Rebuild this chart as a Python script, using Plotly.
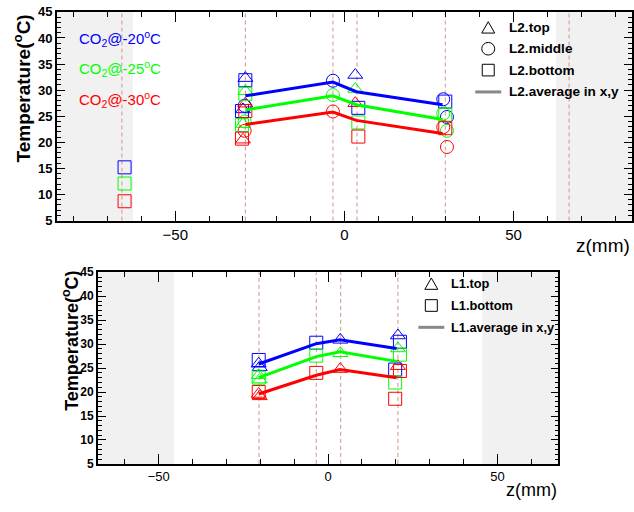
import plotly.graph_objects as go

W, H = 634, 512
COLORS = ["#0000ff", "#00ff00", "#ff0000"]
TEMPS = ["-20", "-25", "-30"]

# ---------------- L2 (upper panel) ----------------
l2_top_z = [-29.3, -30.0, 3.2]
l2_top_t20 = [32.3, 26.3, 32.9]
l2_top_t25 = [29.8, 23.5, 30.2]
l2_top_t30 = [27.4, 20.5, 27.5]

l2_mid_z = [-29.5, -3.4, 29.2, 30.3]
l2_mid_t20 = [27.0, 31.8, 28.25, 24.85]
l2_mid_t25 = [24.0, 29.05, 25.5, 22.2]
l2_mid_t30 = [22.2, 25.9, 22.9, 19.1]

l2_bot_z = [-65.0, -29.3, -30.3, 4.1, 29.8]
l2_bot_t20 = [15.2, 31.9, 26.0, 26.6, 27.8]
l2_bot_t25 = [12.1, 29.3, 23.3, 23.8, 25.3]
l2_bot_t30 = [8.7, 26.0, 20.7, 21.1, 22.7]

l2_avg_z = [-29.3, -3.4, 3.5, 29.0]
l2_avg_t20 = [28.9, 31.55, 29.7, 27.2]
l2_avg_t25 = [26.2, 28.9, 27.2, 24.35]
l2_avg_t30 = [23.4, 25.8, 24.2, 21.7]

l2_sensor_z = [-65.8, -29.3, -3.4, 3.7, 29.8, 66.4]
l2_shade = [62.5, 85]

# ---------------- L1 (lower panel) ----------------
l1_top_z = [-20.5, -20.2, 3.6, 20.6]
l1_top_t20 = [25.9, 25.2, 30.9, 31.8]
l1_top_t25 = [23.5, 22.6, 28.1, 29.1]
l1_top_t30 = [19.6, 19.1, 24.8, 25.4]

l1_bot_z = [-20.5, -3.5, 21.2, 19.8]
l1_bot_t20 = [26.7, 30.3, 30.5, 24.7]
l1_bot_t25 = [23.0, 27.6, 27.8, 22.0]
l1_bot_t30 = [20.0, 24.0, 24.4, 18.6]

l1_avg_z = [-20.5, -3.5, 3.5, 20.2]
l1_avg_t20 = [25.85, 30.1, 30.9, 29.1]
l1_avg_t25 = [23.0, 27.4, 28.4, 26.4]
l1_avg_t30 = [19.6, 23.5, 24.7, 23.0]

l1_sensor_z = [-20.4, -3.5, 3.7, 20.6]
l1_shade = [45.5, 68]

FONT = "Liberation Sans, Arial, sans-serif"


def px(x):
    return x / W


def py(y):
    return 1 - y / H


fig = go.Figure()

def add_markers(z, tlists, symbol, xa, ya):
    for t, c in zip(tlists, COLORS):
        fig.add_trace(go.Scatter(
            x=z, y=t, mode="markers", xaxis=xa, yaxis=ya, showlegend=False,
            marker=dict(symbol=symbol, size=13, color=c, line=dict(color=c, width=1))))


def add_lines(z, tlists, xa, ya):
    for t, c in zip(tlists, COLORS):
        fig.add_trace(go.Scatter(
            x=z, y=t, mode="lines", xaxis=xa, yaxis=ya, showlegend=False,
            line=dict(color=c, width=3)))

# upper panel
add_markers(l2_top_z, [l2_top_t20, l2_top_t25, l2_top_t30], "triangle-up-open", "x", "y")
add_markers(l2_mid_z, [l2_mid_t20, l2_mid_t25, l2_mid_t30], "circle-open", "x", "y")
add_markers(l2_bot_z, [l2_bot_t20, l2_bot_t25, l2_bot_t30], "square-open", "x", "y")
add_lines(l2_avg_z, [l2_avg_t20, l2_avg_t25, l2_avg_t30], "x", "y")

# lower panel
add_markers(l1_top_z, [l1_top_t20, l1_top_t25, l1_top_t30], "triangle-up-open", "x2", "y2")
add_markers(l1_bot_z, [l1_bot_t20, l1_bot_t25, l1_bot_t30], "square-open", "x2", "y2")
add_lines(l1_avg_z, [l1_avg_t20, l1_avg_t25, l1_avg_t30], "x2", "y2")

shapes = []
SHADE = "#f1f1f1"
DASHC = "rgb(205,150,140)"
for xr, yr, shade, sensors in [("x", "y domain", l2_shade, l2_sensor_z),
                                ("x2", "y2 domain", l1_shade, l1_sensor_z)]:
    a, b = shade
    shapes.append(dict(type="rect", xref=xr, yref=yr, x0=-b, x1=-a, y0=0, y1=1,
                       fillcolor=SHADE, line=dict(width=0), layer="below"))
    shapes.append(dict(type="rect", xref=xr, yref=yr, x0=a, x1=b, y0=0, y1=1,
                       fillcolor=SHADE, line=dict(width=0), layer="below"))
    for s in sensors:
        shapes.append(dict(type="line", xref=xr, yref=yr, x0=s, x1=s, y0=0, y1=1,
                           line=dict(color=DASHC, width=1, dash="4px,3px"), layer="below"))


# legend symbols drawn as shapes in paper coordinates
def tri(cx, cy, s):
    h = s * 0.9
    return dict(type="path", xref="paper", yref="paper",
                path=f"M {px(cx - s/2)} {py(cy + h/2)} L {px(cx + s/2)} {py(cy + h/2)} "
                     f"L {px(cx)} {py(cy - h/2)} Z",
                line=dict(color="black", width=1))


def circ(cx, cy, s):
    return dict(type="circle", xref="paper", yref="paper",
                x0=px(cx - s/2), x1=px(cx + s/2), y0=py(cy + s/2), y1=py(cy - s/2),
                line=dict(color="black", width=1))


def sq(cx, cy, s):
    return dict(type="rect", xref="paper", yref="paper",
                x0=px(cx - s/2), x1=px(cx + s/2), y0=py(cy + s/2), y1=py(cy - s/2),
                line=dict(color="black", width=1))


def seg(x0, x1, y):
    return dict(type="line", xref="paper", yref="paper", x0=px(x0), x1=px(x1),
                y0=py(y), y1=py(y), line=dict(color="#888888", width=3))

shapes += [tri(489, 21, 13), circ(489, 43, 13), sq(489, 65, 12), seg(476, 502, 87.5)]
shapes += [tri(432, 285, 13), sq(432, 307.5, 12), seg(419, 445, 330)]

annotations = []


def txt(x, y, s, size, color="black", bold=False, xanchor="left", angle=0):
    annotations.append(dict(x=px(x), y=py(y), xref="paper", yref="paper", text=s,
                            showarrow=False, xanchor=xanchor, yanchor="middle",
                            textangle=angle,
                            font=dict(family=FONT, size=size, color=color,
                                      weight="bold" if bold else "normal")))

txt(508, 21, "L2.top", 13.6, bold=True)
txt(508, 43, "L2.middle", 13.6, bold=True)
txt(508, 65, "L2.bottom", 13.6, bold=True)
txt(508, 87.5, "L2.average in x,y", 13.6, bold=True)
txt(450, 285, "L1.top", 12.8, bold=True)
txt(450, 307.5, "L1.bottom", 12.8, bold=True)
txt(450, 330, "L1.average in x,y", 12.8, bold=True)

for (t, c, yy) in zip(TEMPS, COLORS, [32, 63, 95]):
    txt(77, yy, f"CO<sub>2</sub>@{t}<sup>o</sup>C", 15, color=c)

txt(22, 84, "Temperature(<sup>o</sup>C)", 19, bold=True, xanchor="center", angle=-90)
txt(71, 344, "Temperature(<sup>o</sup>C)", 18, bold=True, xanchor="center", angle=-90)
txt(633, 246, "z(mm)", 19, xanchor="right")
txt(560, 498, "z(mm)", 18, xanchor="right")


def xaxis(domain, rng, anchor, size):
    return dict(domain=domain, range=rng, anchor=anchor, showgrid=False, zeroline=False,
                showline=True, linecolor="black", linewidth=1.5, mirror="allticks",
                ticks="inside", ticklen=10, tickwidth=1, tickcolor="black", dtick=50,
                tick0=0, tickfont=dict(family=FONT, size=size, color="black"),
                minor=dict(dtick=10, ticks="inside", ticklen=5, tickcolor="black", tickwidth=1))


def yaxis(domain, anchor, size, tl):
    return dict(domain=domain, range=[5, 45], anchor=anchor, showgrid=False, zeroline=False,
                showline=True, linecolor="black", linewidth=1.5, mirror="allticks",
                ticks="inside", ticklen=tl, tickwidth=1, tickcolor="black", dtick=5,
                tick0=0, tickfont=dict(family=FONT, size=size, color="black", weight="bold"),
                minor=dict(dtick=1, ticks="inside", ticklen=tl / 2, tickcolor="black", tickwidth=1))

fig.update_layout(
    width=W, height=H, margin=dict(l=0, r=0, t=0, b=0),
    paper_bgcolor="white", plot_bgcolor="white", showlegend=False,
    xaxis=xaxis([px(57), px(633)], [-85, 85], "y", 15),
    yaxis=yaxis([py(220), py(5)], "x", 13, 8),
    xaxis2=xaxis([px(98), px(559.3)], [-68, 68], "y2", 13),
    yaxis2=yaxis([py(470.7), py(273.3)], "x2", 12, 8),
    shapes=shapes, annotations=annotations,
)

fig.write_html("out.html")
